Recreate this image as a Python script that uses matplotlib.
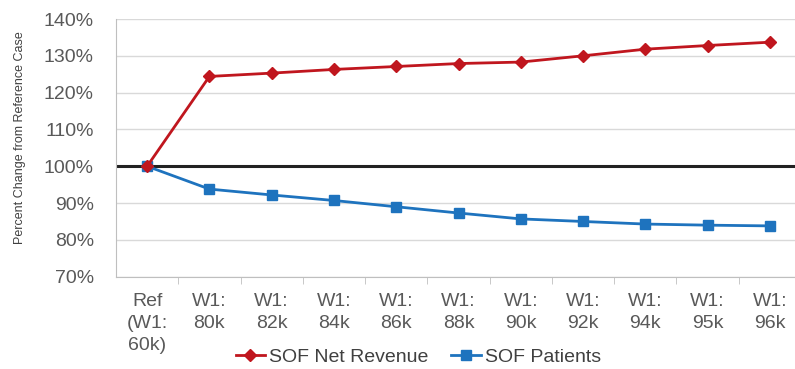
import numpy as np
import matplotlib
matplotlib.use('Agg')
import matplotlib.pyplot as plt
from matplotlib.ticker import FuncFormatter

# Сценарии и процентные изменения относительно базового случая
labels = ['Ref\n(W1:\n60k)', 'W1:\n80k', 'W1:\n82k', 'W1:\n84k', 'W1:\n86k', 'W1:\n88k',
          'W1:\n90k', 'W1:\n92k', 'W1:\n94k', 'W1:\n95k', 'W1:\n96k']
net_revenue = [100, 124.4, 125.3, 126.3, 127.1, 127.9, 128.3, 130.0, 131.8, 132.8, 133.7]
patients = [100, 93.8, 92.2, 90.7, 89.0, 87.3, 85.7, 85.0, 84.3, 84.0, 83.8]

plt.rcParams['font.family'] = ['Liberation Sans', 'DejaVu Sans']

fig = plt.figure(figsize=(7.95, 3.69), dpi=100)
ax = fig.add_axes([116 / 795, 92.3 / 369, 685 / 795, 257.7 / 369])

x = np.arange(len(labels))
red = '#C0161E'
blue = '#1E73BE'
grey = '#595959'

ax.axhline(100, color='#222222', lw=2.2, zorder=2)
ax.plot(x, net_revenue, color=red, lw=2, marker='D', ms=6, label='SOF Net Revenue', zorder=4)
ax.plot(x, patients, color=blue, lw=2, marker='s', ms=7, label='SOF Patients', zorder=3)

ax.set_xlim(-0.5, len(labels) - 0.5)
ax.set_ylim(70, 140)
ax.set_yticks(np.arange(70, 141, 10))
ax.yaxis.set_major_formatter(FuncFormatter(lambda v, p: f'{v:.0f}%'))
ax.grid(axis='y', color='#d9d9d9', lw=1)
ax.set_axisbelow(True)

ax.set_xticks(x)
ax.set_xticklabels(labels, fontsize=14, color=grey, linespacing=1.36)
ax.set_xticks(x[:-1] + 0.5, minor=True)
ax.tick_params(axis='x', which='major', length=0, pad=12)
ax.tick_params(axis='x', which='minor', length=5, color='#bfbfbf')
ax.tick_params(axis='y', length=0, labelsize=14, labelcolor=grey, pad=16)

for s in ['top', 'right']:
    ax.spines[s].set_visible(False)
ax.spines['left'].set_color('#bfbfbf')
ax.spines['bottom'].set_color('#bfbfbf')

# подпись оси Y стоит чуть выше центра области графика
fig.text(20 / 795, 1 - 138 / 369, 'Percent Change from Reference Case', rotation=90,
         fontsize=9, color='#404040', ha='center', va='center')

fig.legend(loc='center', bbox_to_anchor=(0.526, 0.033), ncol=2, frameon=False,
           fontsize=14, handlelength=1.5, handletextpad=0.2, columnspacing=1.2,
           labelcolor='#404040', borderpad=0)

fig.savefig('out.png', dpi=100)
